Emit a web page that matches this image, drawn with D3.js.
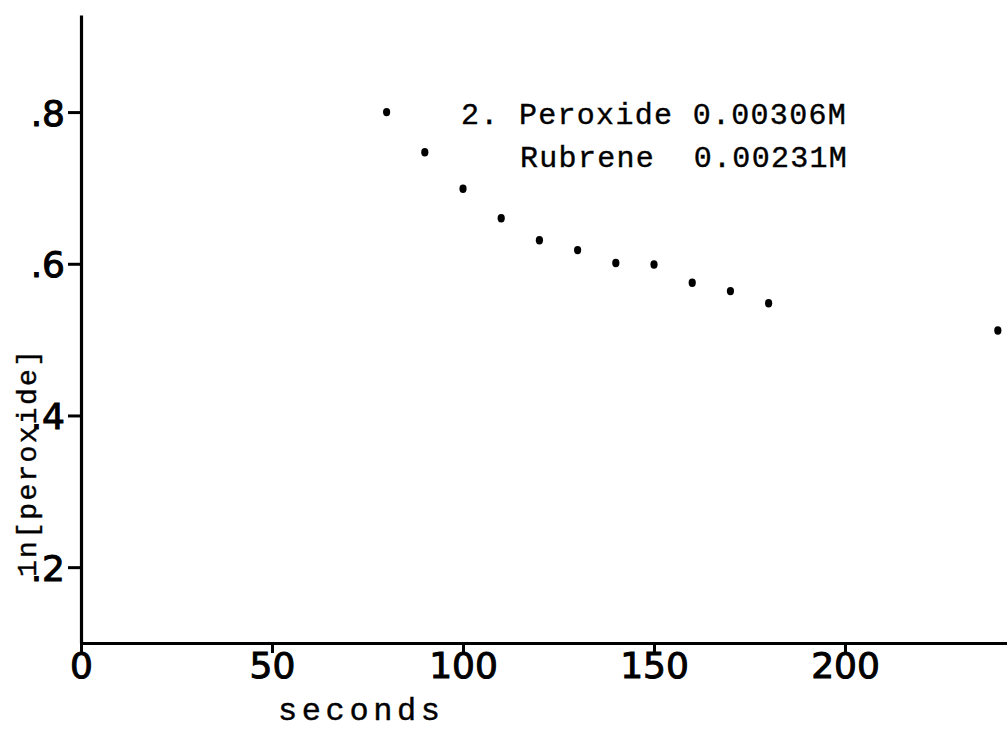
<!DOCTYPE html>
<html>
<head>
<meta charset="utf-8">
<script src="https://cdn.jsdelivr.net/npm/d3@7"></script>
<style>
  html, body { margin: 0; padding: 0; background: #fff; }
  svg { display: block; }
</style>
</head>
<body>
<svg id="chart" width="1007" height="731"></svg>
<script>
// ---- data ----
const seconds = [80, 90, 100, 110, 120, 130, 140, 150, 160, 170, 180, 240];
const lnPeroxide = [0.800, 0.747, 0.699, 0.660, 0.631, 0.618, 0.601, 0.599, 0.575, 0.564, 0.548, 0.512];
const xTickValues = [0, 50, 100, 150, 200];
const xTickLabels = ["0", "50", "100", "150", "200"];
const yTickValues = [0.2, 0.4, 0.6, 0.8];
const yTickLabels = [".2", ".4", ".6", ".8"];
const xDomain = [0, 242.4];
const yDomain = [0.1, 0.928];
const xTitle = "seconds";
const yTitle = "1n[peroxide]";
const legendLines = ["2. Peroxide 0.00306M", "Rubrene  0.00231M"];

// ---- chart ----
const svg = d3.select("#chart");
const W = 1007, H = 731;
svg.append("rect").attr("width", W).attr("height", H).attr("fill", "#fff");

const x = d3.scaleLinear().domain(xDomain).range([81, 1007]);
const y = d3.scaleLinear().domain(yDomain).range([643, 15]);

const tickFont = "'DejaVu Sans', 'Liberation Sans', sans-serif";
const monoFont = "'Liberation Mono', 'DejaVu Sans Mono', monospace";

// x axis
const xAxis = d3.axisBottom(x)
  .tickValues(xTickValues)
  .tickFormat((d, i) => xTickLabels[i])
  .tickSize(10)
  .tickSizeOuter(0);
const gx = svg.append("g").attr("transform", `translate(0,${y(yDomain[0])})`).call(xAxis);
gx.select(".domain").attr("stroke", "#000").attr("stroke-width", 3.2);
gx.selectAll(".tick line").attr("stroke", "#000").attr("stroke-width", 3);
gx.selectAll(".tick text")
  .attr("y", 35).attr("dy", 0)
  .attr("fill", "#000").attr("stroke", "#000").attr("stroke-width", 1)
  .style("font-family", tickFont).style("font-size", "36px");

// y axis
const yAxis = d3.axisLeft(y)
  .tickValues(yTickValues)
  .tickFormat((d, i) => yTickLabels[i])
  .tickSize(13)
  .tickSizeOuter(0);
const gy = svg.append("g").attr("transform", `translate(${x(0)},0)`).call(yAxis);
gy.select(".domain").attr("stroke", "#000").attr("stroke-width", 3.2);
gy.selectAll(".tick line").attr("stroke", "#000").attr("stroke-width", 3);
gy.selectAll(".tick text")
  .attr("x", -16).attr("dy", "0.36em")
  .attr("fill", "#000").attr("stroke", "#000").attr("stroke-width", 1)
  .style("font-family", tickFont).style("font-size", "36px");

// points
svg.append("g").selectAll("ellipse")
  .data(seconds.map((s, i) => [s, lnPeroxide[i]]))
  .join("ellipse")
  .attr("cx", d => x(d[0]))
  .attr("cy", d => y(d[1]))
  .attr("rx", 3.6).attr("ry", 4.2)
  .attr("fill", "#000");

// x title
svg.append("text")
  .attr("x", 278).attr("y", 720)
  .attr("fill", "#000").attr("stroke", "#000").attr("stroke-width", 0.4)
  .style("font-family", monoFont).style("font-size", "32px")
  .style("letter-spacing", "4.6px")
  .text(xTitle);

// y title
svg.append("text")
  .attr("transform", "translate(36,577) rotate(-90)")
  .attr("fill", "#000").attr("stroke", "#000").attr("stroke-width", 0.4)
  .style("font-family", monoFont).style("font-size", "28px")
  .style("letter-spacing", "2.3px")
  .text(yTitle);

// legend annotation
svg.append("g").selectAll("text")
  .data(legendLines)
  .join("text")
  .attr("x", (d, i) => i === 0 ? 461 : 520)
  .attr("y", (d, i) => 124 + i * 43)
  .attr("fill", "#000").attr("stroke", "#000").attr("stroke-width", 0.4)
  .attr("xml:space", "preserve")
  .style("white-space", "pre")
  .style("font-family", monoFont).style("font-size", "30px")
  .style("letter-spacing", "1.3px")
  .text(d => d);
</script>
</body>
</html>
